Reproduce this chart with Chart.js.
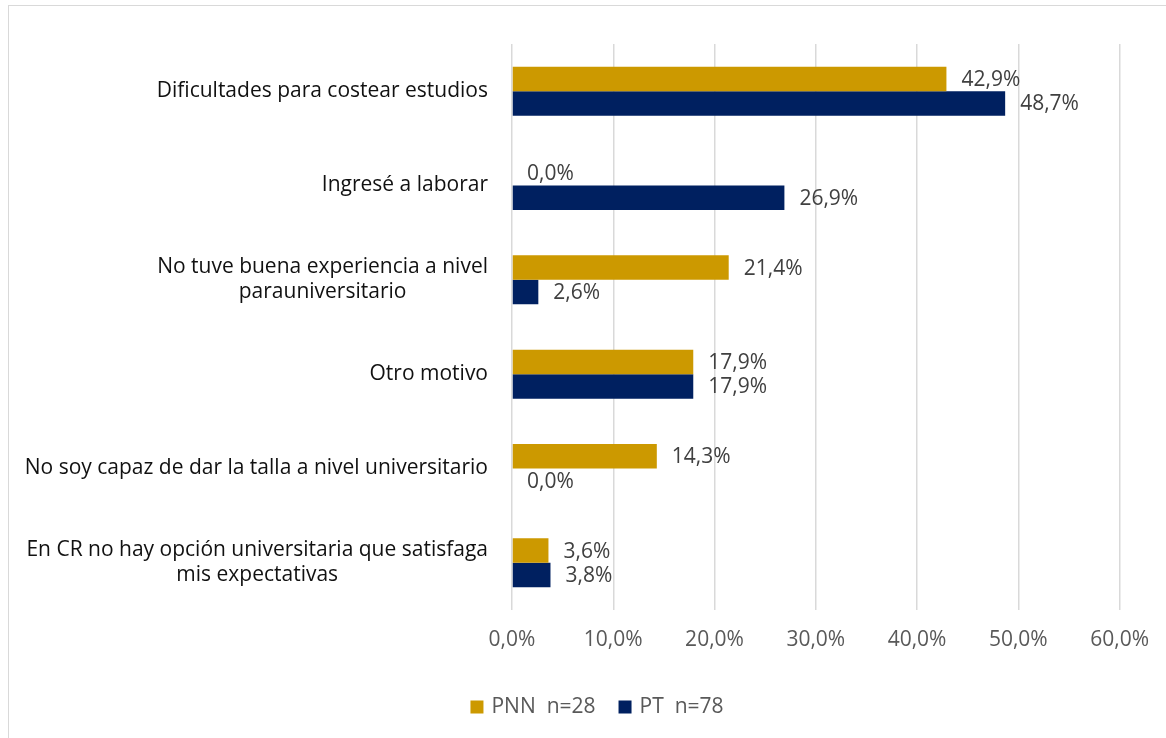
<!DOCTYPE html>
<html>
<head>
<meta charset="utf-8">
<script src="https://cdn.jsdelivr.net/npm/chart.js@4.4.1/dist/chart.umd.min.js"></script>
<style>
  html, body { margin: 0; padding: 0; background: #fff; overflow: hidden; }
  #wrap { position: relative; width: 1166px; height: 738px; }
  #frame { position: absolute; left: 8px; top: 5px; width: 1200px; height: 800px; border: 1px solid #d9d9d9; box-sizing: border-box; }
  canvas { position: absolute; left: 0; top: 0; }
</style>
</head>
<body>
<div id="wrap">
  <div id="frame"></div>
  <canvas id="chart" width="1166" height="738"></canvas>
</div>
<script>
// ==== Data ====
const categories = [
    ['Dificultades para costear estudios'],
    ['Ingresé a laborar'],
    ['No tuve buena experiencia a nivel', 'parauniversitario'],
    ['Otro motivo'],
    ['No soy capaz de dar la talla a nivel universitario'],
    ['En CR no hay opción universitaria que satisfaga', 'mis expectativas']
];
const pnnValues = [42.9, 0.0, 21.4, 17.9, 14.3, 3.6];
const ptValues = [48.7, 26.9, 2.6, 17.9, 0.0, 3.8];
const seriesNames = ['PNN  n=28', 'PT  n=78'];
const xTicks = [0, 10, 20, 30, 40, 50, 60];

const FONT = '"Open Sans", sans-serif';
const fmt = v => v.toFixed(1).replace('.', ',') + '%';

// ==== Category labels: block right aligned, lines centered (Excel style) ====
const catLabels = {
    id: 'catLabels',
    afterDraw(chart) {
        const ctx = chart.ctx;
        const y = chart.scales.y;
        ctx.save();
        ctx.font = '21px ' + FONT;
        ctx.fillStyle = '#111';
        ctx.textAlign = 'center';
        ctx.textBaseline = 'middle';
        const lineH = 25;
        categories.forEach((lines, i) => {
            const cy = y.getPixelForValue(i);
            const w = Math.max(...lines.map(l => ctx.measureText(l).width));
            const cx = 488 - w / 2;
            const y0 = cy - (lines.length - 1) * lineH / 2;
            lines.forEach((l, j) => ctx.fillText(l, cx, y0 + j * lineH));
        });
        ctx.restore();
    }
};

// ==== Value labels at bar ends ====
const valueLabels = {
    id: 'valueLabels',
    afterDatasetsDraw(chart) {
        const ctx = chart.ctx;
        ctx.save();
        ctx.font = '21px ' + FONT;
        ctx.fillStyle = '#404040';
        ctx.textAlign = 'left';
        ctx.textBaseline = 'middle';
        chart.data.datasets.forEach((ds, di) => {
            chart.getDatasetMeta(di).data.forEach((bar, i) => {
                ctx.fillText(fmt(ds.data[i]), bar.x + 15, bar.y + 1);
            });
        });
        ctx.restore();
    }
};

// ==== Legend (drawn by hand so it can sit where Excel put it) ====
const bottomLegend = {
    id: 'bottomLegend',
    afterDraw(chart) {
        const ctx = chart.ctx;
        ctx.save();
        ctx.font = '21px ' + FONT;
        ctx.textBaseline = 'middle';
        ctx.textAlign = 'left';
        const box = 13, gapText = 8, gapItem = 23, cy = 707;
        const items = chart.data.datasets.map(ds => ({ text: ds.label, color: ds.backgroundColor }));
        let total = 0;
        items.forEach((it, i) => {
            total += box + gapText + ctx.measureText(it.text).width + (i ? gapItem : 0);
        });
        let x = 597 - total / 2;
        items.forEach(it => {
            ctx.fillStyle = it.color;
            ctx.fillRect(x, cy - box / 2, box, box);
            x += box + gapText;
            ctx.fillStyle = '#595959';
            ctx.fillText(it.text, x, cy);
            x += ctx.measureText(it.text).width + gapItem;
        });
        ctx.restore();
    }
};

new Chart(document.getElementById('chart'), {
    type: 'bar',
    data: {
        labels: categories.map(c => c.join(' ')),
        datasets: [
            { label: seriesNames[0], data: pnnValues, backgroundColor: '#cc9900', borderWidth: 0 },
            { label: seriesNames[1], data: ptValues, backgroundColor: '#002060', borderWidth: 0 }
        ]
    },
    options: {
        indexAxis: 'y',
        responsive: false,
        animation: false,
        layout: { padding: { top: 44, right: 44, bottom: 50, left: 0 } },
        datasets: { bar: { categoryPercentage: 0.52, barPercentage: 1 } },
        scales: {
            x: {
                min: 0,
                max: 60,
                afterBuildTicks: s => { s.ticks = xTicks.map(v => ({ value: v })); },
                afterFit: s => { s.height = 78; },
                grid: { color: '#d9d9d9', lineWidth: 1.5, drawTicks: false },
                border: { display: false },
                ticks: {
                    padding: 17,
                    color: '#595959',
                    font: { family: FONT, size: 21 },
                    callback: v => fmt(v)
                }
            },
            y: {
                afterFit: s => { s.width = 512; },
                grid: { display: false, drawTicks: false },
                border: { display: false },
                ticks: { color: 'rgba(0,0,0,0)', font: { size: 1 } }
            }
        },
        plugins: {
            legend: { display: false },
            tooltip: { enabled: false }
        }
    },
    plugins: [catLabels, valueLabels, bottomLegend]
});
</script>
</body>
</html>
